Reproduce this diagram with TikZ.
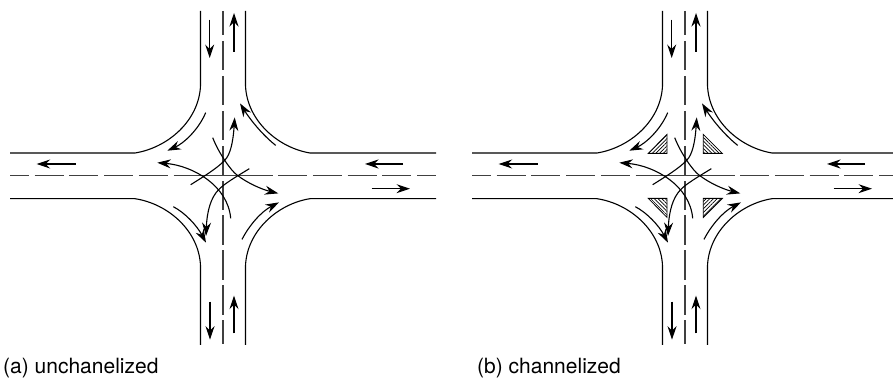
\documentclass[tikz,border=0pt]{standalone}
\usepackage{fontspec}
\setmainfont{TeX Gyre Heros}
\usetikzlibrary{arrows.meta,patterns.meta}

\tikzset{
	curb/.style={line width=1.1pt},
	flow/.style={line width=1.1pt, -{Stealth[length=13.5pt, width=9pt, inset=4.5pt]}},
	hdash/.style={line width=1.6pt, black!75, dash pattern=on 19pt off 5.7pt on 29pt off 5.7pt on 29pt off 5.7pt on 29pt off 5.7pt on 29pt off 5.7pt on 99pt off 5.7pt on 29pt off 5.7pt on 29pt off 5.7pt on 29pt off 5.7pt on 29pt off 5.7pt},
	vdash/.style={line width=1.6pt, black!75, dash pattern=on 24pt off 6pt on 29pt off 6pt on 29pt off 6pt on 29pt off 6pt on 30.5pt off 5pt on 29pt off 5pt on 30pt off 5pt on 30pt off 5pt on 30pt off 5pt},
	island/.style={line width=0.8pt, pattern={Lines[angle=45, distance=2.6pt, line width=0.7pt]}},
	islandb/.style={line width=0.8pt, pattern={Lines[angle=-45, distance=2.6pt, line width=0.7pt]}},
	caption/.style={anchor=base west, font=\fontsize{21}{24}\selectfont, inner sep=0pt}
}

% #1 = x of the centre, #2 = how far the east arm runs
\newcommand{\crossing}[2]{
	\begin{scope}[shift={(#1,203.3)}]
		\draw[curb] (-213,22.7) -- (-88,22.7) .. controls (-55,28) and (-24,55) .. (-22.5,90) -- (-22.5,164.7);
		\draw[curb] (#2,22.7) -- (87,22.7) .. controls (55,28) and (24,55) .. (22.5,90) -- (22.5,164.7);
		\draw[curb] (-213,-23) -- (-88,-23) .. controls (-55,-28) and (-24,-55) .. (-22.5,-90) -- (-22.5,-169.3);
		\draw[curb] (#2,-23) -- (87,-23) .. controls (55,-28) and (24,-55) .. (22.5,-90) -- (22.5,-169.3);
		\draw[hdash] (-213,0) -- (#2,0);
		\draw[vdash] (0,164.7) -- (0,-169.3);
		% through traffic
		\draw[flow] (-13.3,156) -- (-13.3,117.7);
		\draw[flow] (11,124) -- (11,162.7);
		\draw[flow] (-13,-126) -- (-13,-164);
		\draw[flow] (11,-157.6) -- (11,-120);
		\draw[flow] (-147.3,11.7) -- (-186.3,11.7);
		\draw[flow] (180,11.7) -- (142,11.7);
		\draw[flow] (148.7,-13) -- (187,-13);
		% right turns
		\draw[flow] (-17.3,63) .. controls (-25,45) and (-40,32) .. (-55.7,25);
		\draw[flow] (52.7,30.3) .. controls (38,42) and (26,58) .. (17,72.3);
		\draw[flow] (-49.7,-31) .. controls (-38,-37) and (-26,-50) .. (-17,-67);
		\draw[flow] (19,-63.7) .. controls (26,-50) and (38,-36) .. (56,-26.7);
		% left turns
		\draw[flow] (-32.3,-9) .. controls (-18,0) and (-5,8) .. (2,15.7) .. controls (7,21) and (10,32) .. (11.7,58.3);
		\draw[flow] (-10.3,38) .. controls (-4,22) and (8,5) .. (14,0.7) .. controls (25,-8) and (40,-14) .. (55.3,-17.7);
		\draw[flow] (7.7,-42.7) .. controls (5,-10) and (-30,10) .. (-65.7,13);
		\draw[flow] (26.3,7) .. controls (15,0) and (1,-8) .. (-4.7,-14.3) .. controls (-12,-22) and (-16,-35) .. (-17,-60.3);
	\end{scope}
}

\begin{document}
\begin{tikzpicture}[x=1pt, y=1pt]
	\useasboundingbox (0,0) rectangle (893,379);
	\crossing{223}{213}
	\crossing{685}{208}
	% channelizing islands
	\begin{scope}[shift={(685,203.3)}]
		\draw[island] (-18,41.3) -- (-18,22.3) -- (-36.7,22.3) -- cycle;
		\draw[islandb] (18.3,41.3) -- (18.3,22.3) -- (37.3,22.3) -- cycle;
		\draw[islandb] (-36.7,-22.7) -- (-18,-22.7) -- (-18,-41.7) -- cycle;
		\draw[island] (18.3,-22.7) -- (37.3,-22.7) -- (18.3,-41.7) -- cycle;
	\end{scope}
	\node[caption] (capa) at (3,5) {(a) unchanelized};
	\node[caption] (capb) at (477,5) {(b) channelized};
\end{tikzpicture}
\end{document}
